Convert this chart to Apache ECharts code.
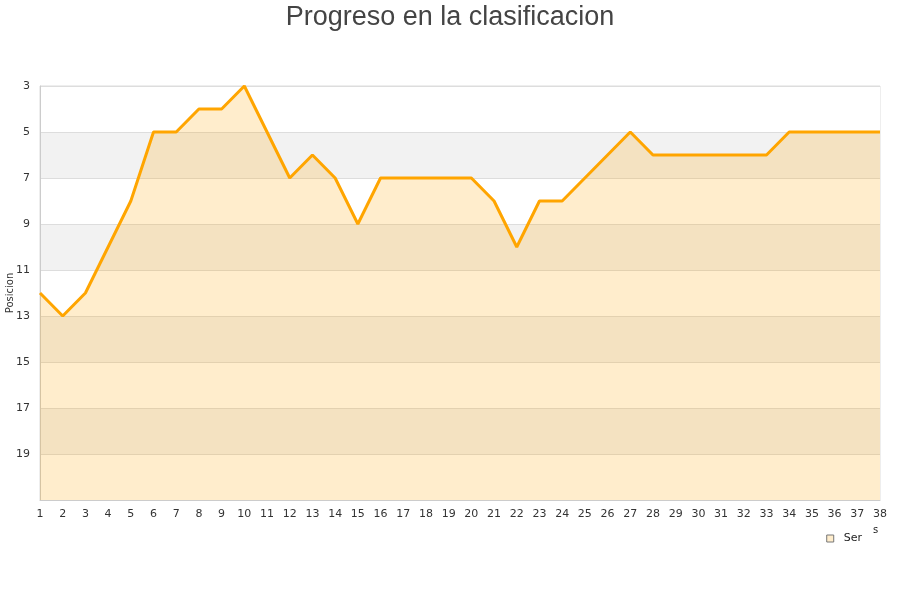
<!DOCTYPE html>
<html><head><meta charset="utf-8">
<script src="https://cdn.jsdelivr.net/npm/echarts@6/dist/echarts.min.js"></script>
<style>html,body{margin:0;padding:0;background:#fff}#c{width:900px;height:600px}</style>
</head><body><div id="c"></div>
<script>
var titleText = "Progreso en la clasificacion";
var seriesName = "Ser";
var seriesNameTail = "s";
var yAxisName = "Posicion";
var jornadas = [];
for (var i = 1; i <= 38; i++) jornadas.push(String(i));
var posiciones = [12,13,12,10,8,5,5,4,4,3,5,7,6,7,9,7,7,7,7,7,8,10,8,8,7,6,5,6,6,6,6,6,6,5,5,5,5,5];

var chart = echarts.init(document.getElementById('c'));
chart.setOption({
  animation: false,
  title: {text: titleText, left: 'center', top: -1,
    textStyle: {fontFamily: 'Liberation Sans, Arial', fontSize: 27, fontWeight: 'normal', color: '#444'}},
  legend: {data: [{name: seriesName, icon: 'rect', itemStyle: {color: '#ffedcc', borderColor: '#777', borderWidth: 1}}],
    right: 33, top: 528, itemWidth: 7, itemHeight: 7,
    textStyle: {fontFamily: 'DejaVu Sans', fontSize: 11, color: '#222', padding: [0, 0, 0, 5]}},
  graphic: [{type: 'text', left: 873, top: 525, style: {text: seriesNameTail, font: '10px DejaVu Sans', fill: '#222'}}],
  grid: {left: 40, right: 20, top: 86, bottom: 100, containLabel: false, outerBoundsMode: 'none',
    show: true, borderColor: '#ddd', borderWidth: 1},
  xAxis: {type: 'category', data: jornadas, boundaryGap: false,
    axisLine: {lineStyle: {color: '#ccc'}}, axisTick: {show: false},
    axisLabel: {interval: 0, color: '#333', fontFamily: 'DejaVu Sans', fontSize: 11, margin: 9},
    splitLine: {show: false}},
  yAxis: {type: 'value', inverse: true, min: 3, max: 21, interval: 2, name: yAxisName,
    nameLocation: 'middle', nameGap: 25, nameMoveOverlap: false,
    nameTextStyle: {fontFamily: 'DejaVu Sans', fontSize: 10, color: '#333'},
    axisLine: {show: true, lineStyle: {color: '#ccc'}}, axisTick: {show: false},
    axisLabel: {color: '#333', fontFamily: 'DejaVu Sans', fontSize: 11, margin: 10, showMaxLabel: false},
    splitLine: {lineStyle: {color: '#ddd'}},
    splitArea: {show: true, areaStyle: {color: ['#ffffff', '#f2f2f2']}}},
  series: [{name: seriesName, type: 'line', data: posiciones, symbol: 'none', showSymbol: false,
    lineStyle: {color: '#FFA500', width: 3}, itemStyle: {color: '#FFA500'},
    areaStyle: {color: 'rgba(255,165,0,0.2)', opacity: 1, origin: 'end'}}]
});
</script></body></html>
